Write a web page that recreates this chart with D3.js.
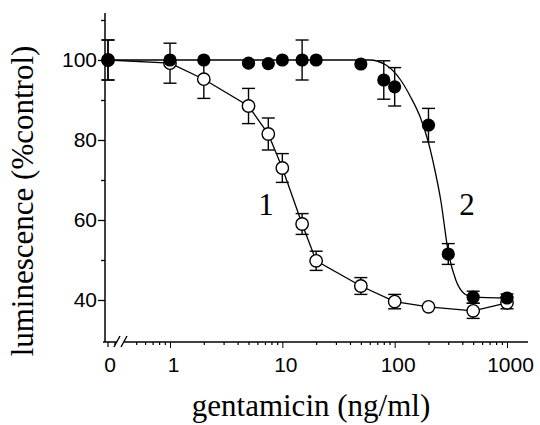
<!DOCTYPE html>
<html>
<head>
<meta charset="utf-8">
<script src="https://cdn.jsdelivr.net/npm/d3@7"></script>
<style>
  body { margin: 0; background: #fff; }
  svg text { fill: #000; }
  .sans { font-family: "Liberation Sans", Arial, Helvetica, sans-serif; font-size: 21px; }
  .serif { font-family: "Liberation Serif", "Times New Roman", Times, "DejaVu Serif", serif; }
</style>
</head>
<body>
<svg id="chart"></svg>
<script>
// *********************************************
// DATA
// *********************************************
var doses = [0, 1, 2, 5, 7.5, 10, 15, 20, 50, 100, 200, 500, 1000];

// curve 1: open circles
var open_y   = [100, 99.2, 95.2, 88.5, 81.5, 73, 59, 49.8, 43.5, 39.6, 38.3, 37.3, 39.3];
var open_err = [5, 5, 4.8, 4.4, 4, 3.6, 2.6, 2.4, 2.1, 1.8, 0, 1.9, 1.5];

// curve 2: filled circles
var fill_x   = [0, 1, 2, 5, 7.5, 10, 15, 20, 50, 80, 100, 200, 300, 500, 1000];
var fill_y   = [100, 100, 100, 99.2, 99.1, 100, 100, 100, 99, 95, 93.3, 83.7, 51.5, 40.7, 40.5];
var fill_err = [5, 0, 0, 0, 0, 0, 5, 0, 0, 4.8, 4.8, 4.2, 2.6, 1.5, 1];

// fitted line through curve 2
var fit_x = [0, 1, 10, 60, 83, 113, 139, 170, 197, 230, 257, 300, 350, 420, 500, 1000];
var fit_y = [100, 100, 100, 100, 98.8, 95, 90.7, 85.5, 80, 72, 65, 52, 45, 41.5, 40.7, 40.5];

var yTicks = [40, 60, 80, 100];
var yMinor = [50, 70, 90, 110];
var xTicks = [1, 10, 100, 1000];

// *********************************************
// SETUP
// *********************************************
var width = 540, height = 425;
var svg = d3.select("#chart").attr("width", width).attr("height", height);

var axisX = 105, axisY = 342;

var x = d3.scaleLog().domain([1, 1000]).range([170, 507]);
var y = d3.scaleLinear().domain([29.5, 111.75]).range([axisY, 13]);
var x0 = 108; // position of the "0" dose, left of the break
function xPos(v) { return v === 0 ? x0 : x(v); }

// *********************************************
// AXES
// *********************************************
var gy = svg.append("g").attr("transform", "translate(" + axisX + ",0)");
gy.call(d3.axisLeft(y).tickValues(yTicks).tickSize(7).tickSizeOuter(0).tickPadding(1));
gy.select(".domain").remove();
gy.selectAll("text").attr("class", "sans").attr("font-family", null).attr("font-size", null);
gy.attr("font-family", null).attr("font-size", null);
var gy2 = svg.append("g").attr("transform", "translate(" + axisX + ",0)");
gy2.call(d3.axisLeft(y).tickValues(yMinor).tickSize(4).tickFormat(""));
gy2.select(".domain").remove();
svg.append("line").attr("x1", axisX).attr("x2", axisX).attr("y1", 13).attr("y2", axisY)
  .attr("stroke", "#000").attr("stroke-width", 1.5);
svg.selectAll(".tick line").attr("stroke-width", 1.3);

// x axis
var minor = [0.5, 0.6, 0.7, 0.8, 0.9];
[1, 10, 100].forEach(function(d) {
  for (var k = 2; k <= 9; k++) minor.push(d * k);
});
var gx = svg.append("g").attr("transform", "translate(0," + axisY + ")");
gx.call(d3.axisBottom(x).tickValues(xTicks).tickSize(6).tickPadding(9).tickFormat(d3.format("d")));
gx.select(".domain").remove();
gx.attr("font-family", null).attr("font-size", null);
gx.selectAll("text").attr("class", "sans").attr("dx", 3);
var gx2 = svg.append("g").attr("transform", "translate(0," + axisY + ")");
gx2.call(d3.axisBottom(x).tickValues(minor).tickSize(3).tickFormat(""));
gx2.select(".domain").remove();
gx2.selectAll("line").attr("stroke-width", 1.2);

svg.append("line").attr("x1", axisX - 2).attr("x2", 117).attr("y1", axisY).attr("y2", axisY)
  .attr("stroke", "#000").attr("stroke-width", 1.5);
svg.append("line").attr("x1", 124).attr("x2", 528).attr("y1", axisY).attr("y2", axisY)
  .attr("stroke", "#000").attr("stroke-width", 1.5);
// break marks
[[114, 120], [121, 127]].forEach(function(p) {
  svg.append("line").attr("x1", p[0]).attr("y1", axisY + 5).attr("x2", p[1]).attr("y2", axisY - 6)
    .attr("stroke", "#000").attr("stroke-width", 1.4);
});
// ticks left of the break
[x0, axisX - 2 + 12].forEach(function(v, i) {
  svg.append("line").attr("x1", v).attr("x2", v).attr("y1", axisY).attr("y2", axisY + (i ? 3 : 5))
    .attr("stroke", "#000").attr("stroke-width", 1.2);
});
svg.append("text").attr("class", "sans").attr("x", x0 + 2).attr("y", axisY + 30)
  .attr("text-anchor", "middle").text("0");

// axis titles
svg.append("text").attr("class", "serif").attr("transform", "translate(33,201) rotate(-90)")
  .attr("text-anchor", "middle").style("font-size", "31px")
  .text("luminescence (%control)");
svg.append("text").attr("class", "serif").attr("x", 311).attr("y", 416).attr("text-anchor", "middle")
  .style("font-size", "31px").text("gentamicin (ng/ml)");

// *********************************************
// CURVES
// *********************************************
var line = d3.line().x(d => xPos(d[0])).y(d => y(d[1]));
svg.append("path").datum(doses.map((d, i) => [d, open_y[i]]))
  .attr("d", line).attr("fill", "none").attr("stroke", "#000").attr("stroke-width", 1.3);
svg.append("path").datum(fit_x.map((d, i) => [d, fit_y[i]]))
  .attr("d", line.curve(d3.curveMonotoneX)).attr("fill", "none").attr("stroke", "#000").attr("stroke-width", 1.3);

function errBars(xs, ys, es) {
  var g = svg.append("g").attr("stroke", "#000").attr("stroke-width", 1.4);
  xs.forEach(function(d, i) {
    if (!es[i]) return;
    var cx = xPos(d), t = y(ys[i] + es[i]), b = y(ys[i] - es[i]);
    g.append("line").attr("x1", cx).attr("x2", cx).attr("y1", t).attr("y2", b);
    g.append("line").attr("x1", cx - 6.5).attr("x2", cx + 6.5).attr("y1", t).attr("y2", t);
    g.append("line").attr("x1", cx - 6.5).attr("x2", cx + 6.5).attr("y1", b).attr("y2", b);
  });
}
errBars(doses, open_y, open_err);
errBars(fill_x, fill_y, fill_err);

svg.append("g").selectAll("circle").data(doses).enter().append("circle")
  .attr("cx", d => xPos(d)).attr("cy", (d, i) => y(open_y[i])).attr("r", 6.2)
  .attr("fill", "#fff").attr("stroke", "#000").attr("stroke-width", 1.4);
svg.append("g").selectAll("circle").data(fill_x).enter().append("circle")
  .attr("cx", d => xPos(d)).attr("cy", (d, i) => y(fill_y[i])).attr("r", 6.6)
  .attr("fill", "#000");

// curve labels
svg.append("text").attr("class", "serif").attr("x", 266).attr("y", 215).attr("text-anchor", "middle")
  .style("font-size", "31px").text("1");
svg.append("text").attr("class", "serif").attr("x", 467).attr("y", 215).attr("text-anchor", "middle")
  .style("font-size", "31px").text("2");
</script>
</body>
</html>
